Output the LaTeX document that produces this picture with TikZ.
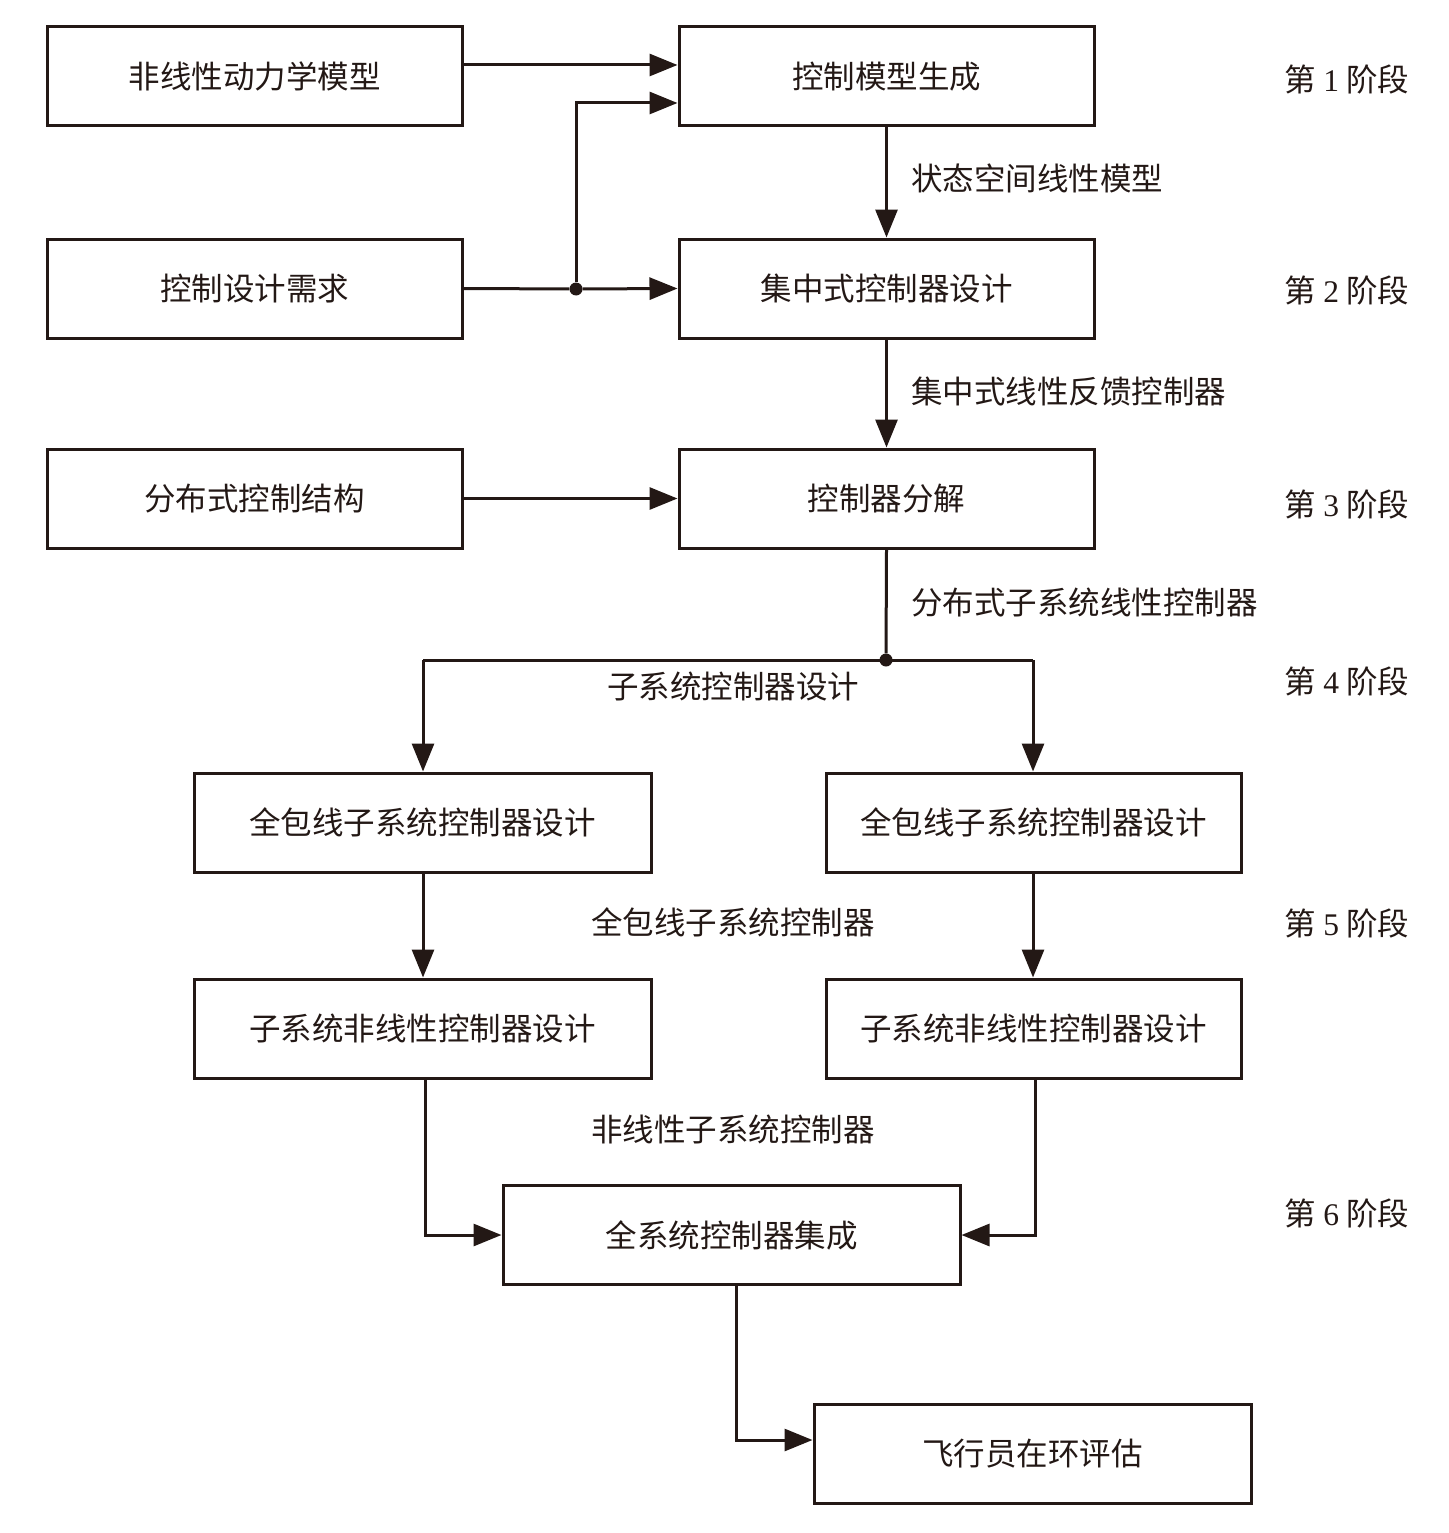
\documentclass[tikz,border=0pt]{standalone}
\usepackage{fontspec}
\setmainfont{Liberation Serif}
\newfontfamily\cjk{Noto Sans CJK SC}
\usetikzlibrary{arrows.meta}
\definecolor{ink}{HTML}{231815}
\begin{document}
\begin{tikzpicture}[x=1pt,y=-1pt,
  every node/.style={text=ink,font=\cjk\fontsize{31.5}{36}\selectfont},
  box/.style={draw=ink,line width=3pt,minimum height=99pt,inner sep=0pt},
  wbox/.style={box,minimum width=415pt},
  lbox/.style={box,minimum width=457pt},
  conn/.style={draw=ink,line width=3pt,-{Triangle[length=28pt,width=22pt]}},
  plain/.style={draw=ink,line width=3pt},
  lbl/.style={inner sep=0pt,anchor=west},
  clbl/.style={inner sep=0pt},
  stage/.style={inner sep=0pt,font=\cjk\fontsize{31.5}{36}\selectfont},
  dotst/.style={circle,fill=ink,inner sep=0pt,minimum size=13pt}]
\useasboundingbox (0,0) rectangle (1448,1533);
% boxes
\node[wbox] (a1) at (254.5,76.5) {非线性动力学模型};
\node[wbox] (b1) at (886.5,76.5) {控制模型生成};
\node[wbox] (a2) at (254.5,288.5) {控制设计需求};
\node[wbox] (b2) at (886.5,288.5) {集中式控制器设计};
\node[wbox] (a3) at (254.5,498.5) {分布式控制结构};
\node[wbox] (b3) at (886.5,498.5) {控制器分解};
\node[lbox] (l4) at (422.5,822.5) {全包线子系统控制器设计};
\node[wbox] (r4) at (1033.5,822.5) {全包线子系统控制器设计};
\node[lbox] (l5) at (422.5,1028.5) {子系统非线性控制器设计};
\node[wbox] (r5) at (1033.5,1028.5) {子系统非线性控制器设计};
\node[lbox] (s6) at (731.5,1235) {全系统控制器集成};
\node[box,minimum width=437pt] (pe) at (1032.5,1453.5) {飞行员在环评估};
% junctions
\node[dotst] (j1) at (576,289) {};
\node[dotst] (j2) at (886,660) {};
\coordinate (jL) at (423,660);
\coordinate (jR) at (1033,660);
% connectors
\draw[conn] (a1.east |- 0,65) -- (b1.west |- 0,65);
\draw[plain] (a2.east) -- (j1);
\draw[conn] (j1) -- (b2.west);
\draw[conn] (j1) |- (b1.west |- 0,103);
\draw[conn] (b1.south) -- (b2.north);
\draw[conn] (b2.south) -- (b3.north);
\draw[conn] (a3.east) -- (b3.west);
\draw[plain] (b3.south) -- (j2);
\draw[plain] (jL) -- (jR);
\draw[conn] (jL) -- (l4.north -| jL);
\draw[conn] (jR) -- (r4.north -| jR);
\draw[conn] (l4.south -| jL) -- (l5.north -| jL);
\draw[conn] (r4.south -| jR) -- (r5.north -| jR);
\draw[conn] (l5.south -| 425,0) |- (s6.west);
\draw[conn] (r5.south -| 1035,0) |- (s6.east);
\draw[conn] (s6.south -| 736,0) |- (pe.west |- 0,1440);
% labels
\node[lbl] (t1) at (911,178) {状态空间线性模型};
\node[lbl] (t2) at (911,392) {集中式线性反馈控制器};
\node[lbl] (t3) at (911,603) {分布式子系统线性控制器};
\node[clbl] (t4) at (733,687) {子系统控制器设计};
\node[clbl] (t5) at (733,922) {全包线子系统控制器};
\node[clbl] (t6) at (733,1129) {非线性子系统控制器};
% stages
\node[stage] (p1) at (1347,80) {第 {\rmfamily 1} 阶段};
\node[stage] (p2) at (1347,290) {第 {\rmfamily 2} 阶段};
\node[stage] (p3) at (1347,504) {第 {\rmfamily 3} 阶段};
\node[stage] (p4) at (1347,681) {第 {\rmfamily 4} 阶段};
\node[stage] (p5) at (1347,923) {第 {\rmfamily 5} 阶段};
\node[stage] (p6) at (1347,1213) {第 {\rmfamily 6} 阶段};
\end{tikzpicture}
\end{document}
